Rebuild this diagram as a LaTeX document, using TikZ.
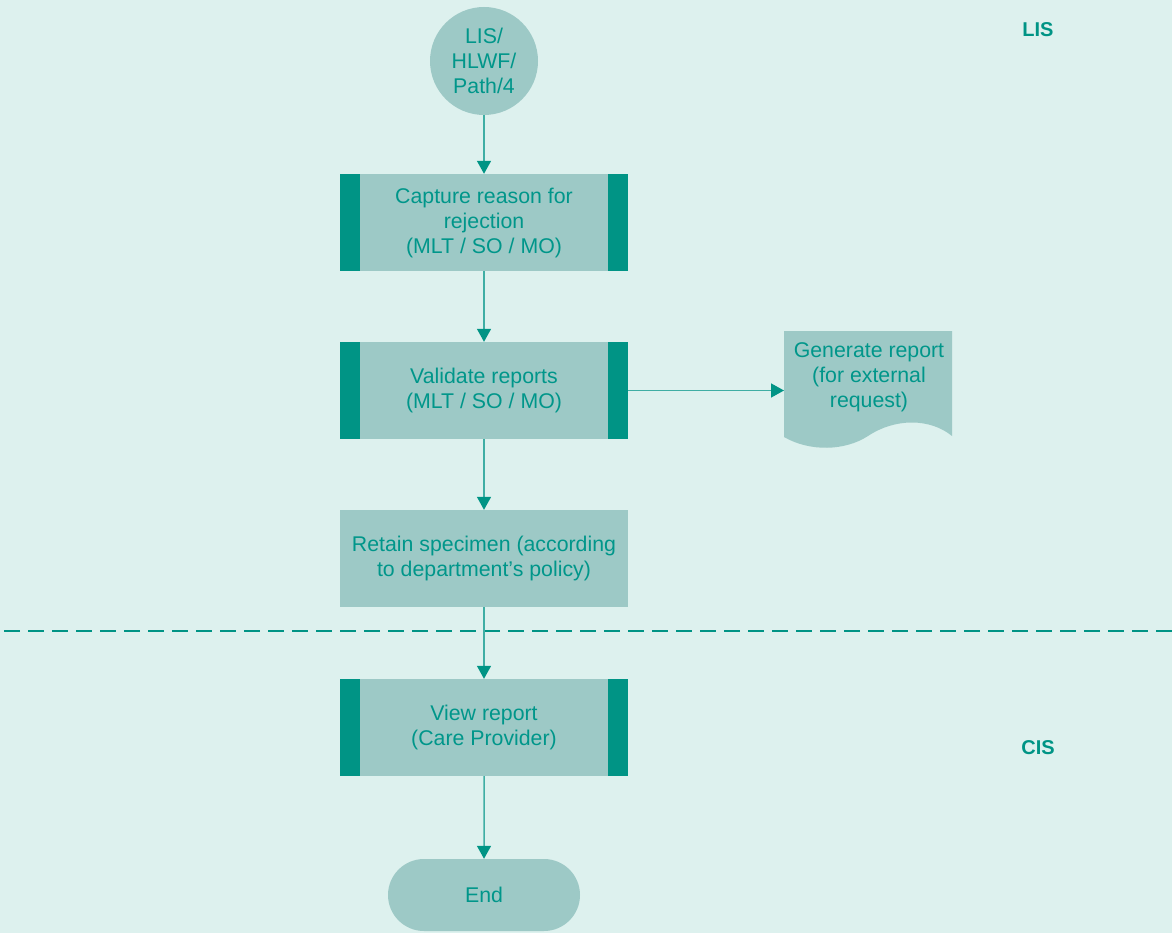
\documentclass[tikz,border=0pt]{standalone}
\usepackage{fontspec}
\setmainfont{Liberation Sans}
\usetikzlibrary{arrows.meta,shapes.misc}
\definecolor{bgc}{HTML}{DDF1EE}
\definecolor{boxc}{HTML}{9DC9C6}
\definecolor{darkc}{HTML}{009485}
\definecolor{linec}{HTML}{3FAEA4}
\definecolor{txtc}{HTML}{00968A}
\begin{document}
\begin{tikzpicture}[x=1pt,y=-1pt,
  every node/.style={font=\fontsize{21.3}{25}\selectfont, text=txtc, align=center},
  proc/.style={fill=boxc, draw=none, minimum width=288pt, minimum height=97pt, inner sep=0pt},
  conn/.style={draw=linec, line width=1.5pt, -{Triangle[width=14pt,length=13pt,color=darkc]}},
  lbl/.style={font=\fontsize{20}{24}\selectfont\bfseries, text=darkc}]
\fill[bgc] (0,0) rectangle (1172,933);
\useasboundingbox (0,0) rectangle (1172,933);
% dashed separator
\draw[darkc, line width=2pt, dash pattern=on 16pt off 8pt] (4,631) -- (1172,631);
% nodes
\node[circle, fill=boxc, minimum size=108pt, inner sep=0pt] (start) at (484,61) {LIS/\\HLWF/\\Path/4};
\node[proc] (cap) at (484,222.5) {Capture reason for\\rejection\\(MLT / SO / MO)};
\node[proc] (val) at (484,390.5) {Validate reports\\(MLT / SO / MO)};
\node[proc] (ret) at (484,558.5) {Retain specimen (according\\to department’s policy)};
\node[proc] (view) at (484,727.5) {View report\\(Care Provider)};
\node[rounded rectangle, fill=boxc, minimum width=192pt, minimum height=72pt, inner sep=0pt] (end) at (484,895) {End};
% side bars
\foreach \n in {cap,val,view}{
  \fill[darkc] (\n.north west) rectangle ++(20,97);
  \fill[darkc] (\n.north east) rectangle ++(-20,97);
}
% document
\fill[boxc] (784,331) -- (952,331) -- (952,436)
  .. controls (930,418) and (895,418) .. (868,436)
  .. controls (845,451) and (810,452) .. (784,437) -- cycle;
\node (doc) at (869,377) {Generate report\\(for external\\request)};
\coordinate (docw) at (784,390.5);
% labels
\node[lbl] (lis) at (1038,30) {LIS};
\node[lbl] (cis) at (1038,748) {CIS};
% connectors
\draw[conn] (start) -- (cap);
\draw[conn] (cap) -- (val);
\draw[conn] (val) -- (ret);
\draw[conn] (ret) -- (view);
\draw[conn] (view) -- (end);
\draw[conn] (val.east) -- (docw);
\end{tikzpicture}
\end{document}
